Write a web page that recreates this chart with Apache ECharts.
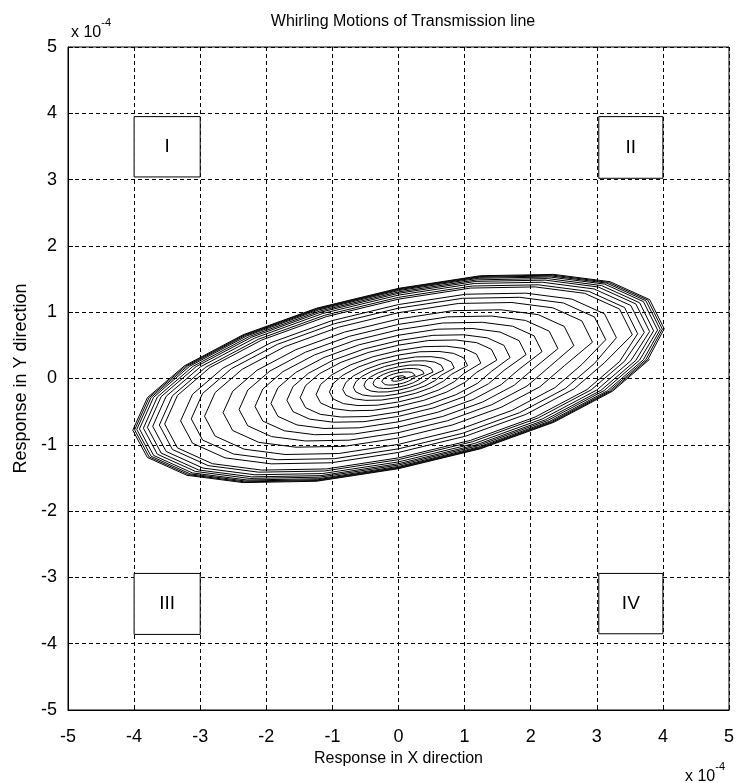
<!DOCTYPE html>
<html>
<head>
<meta charset="utf-8">
<title>Whirling Motions of Transmission line</title>
<script src="https://cdn.jsdelivr.net/npm/echarts@6/dist/echarts.min.js"></script>
<style>
  html, body { margin: 0; padding: 0; background: #fff; }
  #chart { width: 739px; height: 783px; }
</style>
</head>
<body>
<div id="chart"></div>
<script>
// outer orbit (units of 1e-4), one turn
const orbitX = [4.02, 3.80, 3.20, 2.35, 1.24, 0.00, -1.24, -2.35, -3.24, -3.80,
  -4.02, -3.80, -3.20, -2.35, -1.24, 0.00, 1.24, 2.35, 3.24, 3.80]
const orbitY = [0.75, 1.19, 1.46, 1.57, 1.55, 1.36, 1.06, 0.66, 0.19, -0.29,
  -0.78, -1.19, -1.46, -1.57, -1.55, -1.36, -1.06, -0.66, -0.19, 0.29]

// size of each turn relative to the outer orbit, read from the y = 0 crossings
const turnScale = [0.027, 0.063, 0.096, 0.13, 0.17, 0.21, 0.26, 0.31, 0.37, 0.42,
  0.48, 0.54, 0.60, 0.66, 0.73, 0.78, 0.82, 0.88, 0.90, 0.925, 0.945, 0.96,
  0.975, 0.985, 0.993, 1.0]

// the four quadrant boxes
const boxLabels = ['I', 'II', 'III', 'IV']
const boxX0 = [-4, 3.03, -4, 3.03]
const boxX1 = [-3, 4, -3, 4]
const boxY0 = [3.04, 3.02, -3.86, -3.85]
const boxY1 = [3.95, 3.95, -2.94, -2.94]

const ticks = [-5, -4, -3, -2, -1, 0, 1, 2, 3, 4, 5]

const FONT = "'Liberation Sans Narrow', 'Liberation Sans', Arial, sans-serif"

const orbitData = [[0, 0]]
turnScale.forEach(s => {
  orbitX.forEach((x, j) => {
    orbitData.push([x * s, orbitY[j] * s])
  })
})

const boxData = boxLabels.map((name, i) => [
  { name, coord: [boxX0[i], boxY0[i]] },
  { coord: [boxX1[i], boxY1[i]] }
])

const chart = echarts.init(document.getElementById('chart'))

function axisCommon(name, gap, size, margin) {
  return {
    type: 'value',
    min: ticks[0],
    max: ticks[ticks.length - 1],
    interval: 1,
    name,
    nameLocation: 'middle',
    nameGap: gap,
    nameTextStyle: { color: '#000', fontSize: size, fontFamily: 'Liberation Sans, Arial, sans-serif' },
    axisLine: { show: true, onZero: false, lineStyle: { color: '#000', width: 1 } },
    axisTick: { show: true, inside: true, length: 5, lineStyle: { color: '#000' } },
    axisLabel: { color: '#000', fontSize: 18, fontFamily: FONT, margin },
    splitLine: { show: true, lineStyle: { color: '#000', type: [4, 3], width: 1 } }
  }
}

const expRich = {
  b: { color: '#000', fontSize: 16, fontWeight: 'normal', fontFamily: FONT, verticalAlign: 'bottom', padding: [8, 0, 0, 0] },
  s: { color: '#000', fontSize: 11, fontWeight: 'normal', fontFamily: FONT, verticalAlign: 'top' }
}

chart.setOption({
  animation: false,
  backgroundColor: '#fff',
  title: [
    {
      text: 'Whirling Motions of Transmission line',
      left: 398,
      top: 9,
      textAlign: 'center',
      textStyle: { color: '#000', fontSize: 16, fontWeight: 'normal', fontFamily: FONT }
    },
    {
      text: '{b|x 10}{s|-4}',
      left: 66,
      top: 12,
      textStyle: { fontWeight: 'normal', rich: expRich }
    },
    {
      text: '{b|x 10}{s|-4}',
      left: 680,
      top: 756,
      textStyle: { fontWeight: 'normal', rich: expRich }
    }
  ],
  grid: {
    left: 68,
    right: 10,
    top: 47,
    bottom: 73,
    show: true,
    borderColor: '#000',
    borderWidth: 1
  },
  xAxis: axisCommon('Response in X direction', 34, 16, 18),
  yAxis: axisCommon('Response in Y direction', 37, 18, 11),
  series: [
    {
      name: 'orbit',
      type: 'line',
      data: orbitData,
      showSymbol: false,
      smooth: false,
      lineStyle: { color: '#000', width: 1 },
      z: 3,
      markArea: {
        silent: true,
        itemStyle: { color: '#fff', borderColor: '#000', borderWidth: 1 },
        label: {
          show: true,
          position: 'inside',
          color: '#000',
          fontSize: 19,
          fontFamily: FONT
        },
        data: boxData
      }
    }
  ]
})
</script>
</body>
</html>
